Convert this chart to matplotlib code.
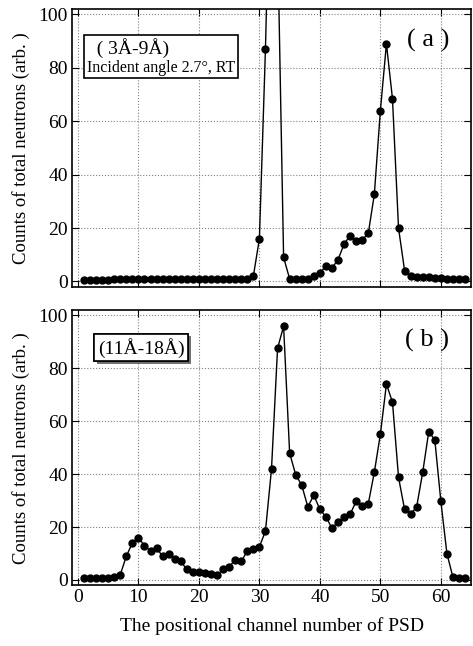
import matplotlib.pyplot as plt
import matplotlib.patheffects as pe
from matplotlib.offsetbox import AnchoredOffsetbox, TextArea, VPacker
import numpy as np

plt.rcParams["font.family"] = ["Liberation Serif", "DejaVu Serif"]

channels = np.arange(1, 65)

# (a) 3-9 A, incident angle 2.7 deg; channels 32-33 run off the scale
counts_a = [0.5, 0.5, 0.5, 0.5, 0.5, 1, 1, 1, 1, 1,
            1, 1, 1, 1, 1, 1, 1, 1, 1, 1,
            1, 1, 1, 1, 1, 1, 1, 1, 2, 16,
            87, 180, 130, 9, 1, 1, 1, 1, 2, 3.3,
            5.7, 5, 8.2, 14, 17.2, 15.1, 15.6, 18, 32.6, 64,
            89, 68.4, 20, 4.1, 2, 1.5, 1.5, 1.5, 1.2, 1.2,
            1, 1, 1, 1]

# (b) 11-18 A
counts_b = [0.75, 0.75, 0.75, 0.75, 0.75, 1, 2, 9, 14, 16,
            13, 11, 12, 9, 10, 8, 7, 4, 3, 3,
            2.8, 2.3, 1.9, 4, 5, 7.6, 7, 11, 11.7, 12.5,
            18.5, 41.9, 87.5, 95.9, 47.9, 39.8, 35.8, 27.7, 32, 26.7,
            23.9, 19.5, 22, 23.8, 24.8, 29.8, 27.8, 28.8, 40.7, 55.1,
            74, 67.2, 38.8, 26.7, 24.8, 27.7, 40.7, 56.1, 52.9, 29.7,
            10, 1, 0.6, 0.6]

fig = plt.figure(figsize=(4.73, 6.46), dpi=100)
ax_a = fig.add_axes([0.152, 0.556, 0.844, 0.430])
ax_b = fig.add_axes([0.152, 0.094, 0.844, 0.426])

panels = [(ax_a, counts_a, "( a )"), (ax_b, counts_b, "( b )")]
for ax, counts, tag in panels:
    ax.plot(channels, counts, color="black", lw=1.0, marker="o", ms=5)
    ax.set_xlim(-1, 65)
    ax.set_ylim(-2, 102)
    ax.set_xticks(np.arange(0, 61, 10))
    ax.set_yticks(np.arange(0, 101, 20))
    ax.grid(True, ls=":", color="gray", lw=0.8)
    ax.tick_params(direction="in", right=True, top=True, labelsize=14, length=5, pad=3)
    ax.set_ylabel("Counts of total neutrons (arb. )", fontsize=13.5, labelpad=6)
    ax.text(0.945, 0.93, tag, transform=ax.transAxes, ha="right", va="top", fontsize=19)
    for s in ax.spines.values():
        s.set_linewidth(1.2)

ax_a.tick_params(labelbottom=False)
ax_b.set_xlabel("The positional channel number of PSD", fontsize=14, labelpad=8)

# boxed label of panel (a): two lines in different sizes
line1 = TextArea("  ( 3Å-9Å)", textprops=dict(fontsize=14))
line2 = TextArea("Incident angle 2.7°, RT", textprops=dict(fontsize=11.5))
packed = VPacker(children=[line1, line2], align="left", pad=0, sep=1)
box_a = AnchoredOffsetbox(loc="upper left", child=packed, pad=0.2, borderpad=0.0,
                          frameon=True, bbox_to_anchor=(0.03, 0.905),
                          bbox_transform=ax_a.transAxes)
box_a.patch.set_edgecolor("black")
box_a.patch.set_linewidth(1.2)
box_a.patch.set_boxstyle("square,pad=0")
ax_a.add_artist(box_a)

t_b = ax_b.text(0.065, 0.90, "(11Å-18Å)", transform=ax_b.transAxes, ha="left", va="top",
                fontsize=14,
                bbox=dict(boxstyle="square,pad=0.2", fc="white", ec="black", lw=1.2))
t_b.get_bbox_patch().set_path_effects([pe.withSimplePatchShadow(offset=(2, -2), shadow_rgbFace="0.3", alpha=0.8), pe.Normal()])

fig.savefig("out.png", dpi=100)
